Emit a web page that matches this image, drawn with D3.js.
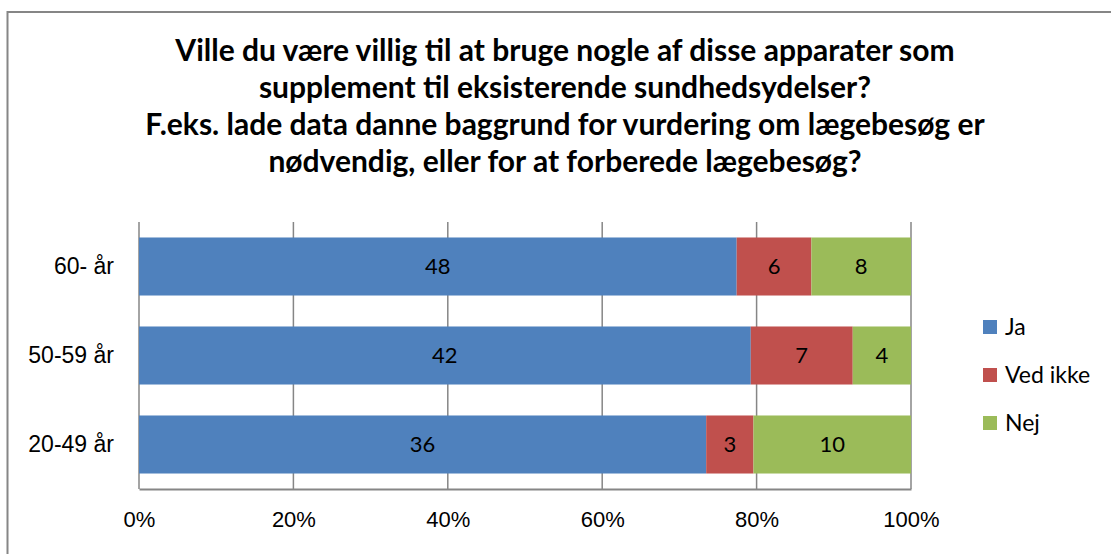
<!DOCTYPE html>
<html>
<head>
<meta charset="utf-8">
<script src="https://cdn.jsdelivr.net/npm/d3@7"></script>
<style>
  body { margin: 0; background: #fff; }
  svg { display: block; font-family: Lato, "Open Sans", sans-serif; }
</style>
</head>
<body>
<div id="chart"></div>
<script>
// chart size
const width = 1111;
const height = 554;
const marginTop = 222;
const marginRight = 200;
const marginBottom = 65;
const marginLeft = 139;

// data
const titleLines = [
  "Ville du være villig til at bruge nogle af disse apparater som",
  "supplement til eksisterende sundhedsydelser?",
  "F.eks. lade data danne baggrund for vurdering om lægebesøg er",
  "nødvendig, eller for at forberede lægebesøg?"
];
const ageGroups = ["60- år", "50-59 år", "20-49 år"];
const seriesNames = ["Ja", "Ved ikke", "Nej"];
const jaValues = [48, 42, 36];
const vedIkkeValues = [6, 7, 3];
const nejValues = [8, 4, 10];
const colors = ["#4F81BD", "#C0504D", "#9BBB59"];
const xTicks = [0, 0.2, 0.4, 0.6, 0.8, 1];

// build rows for stacking (as shares of each row total)
const rows = ageGroups.map((g, i) => {
  const vals = [jaValues[i], vedIkkeValues[i], nejValues[i]];
  const total = d3.sum(vals);
  const r = { group: g, counts: vals };
  seriesNames.forEach((s, j) => r[s] = vals[j] / total);
  return r;
});
const stacked = d3.stack().keys(seriesNames)(rows);

const x = d3.scaleLinear()
  .domain([0, 1])
  .range([marginLeft, width - marginRight]);

const y = d3.scaleBand()
  .domain(ageGroups)
  .range([marginTop, height - marginBottom])
  .paddingInner(0.348)
  .paddingOuter(0.174);

const svg = d3.select("#chart").append("svg")
  .attr("width", width)
  .attr("height", height);

// outer chart border (runs off the right and bottom of the picture)
svg.append("rect")
  .attr("x", 7.5)
  .attr("y", 12)
  .attr("width", width + 20)
  .attr("height", height + 20)
  .attr("fill", "none")
  .attr("stroke", "#868686")
  .attr("stroke-width", 2);

// title
svg.append("g")
  .selectAll("text")
  .data(titleLines)
  .join("text")
    .attr("x", 565)
    .attr("y", (d, i) => 61 + i * 37)
    .attr("text-anchor", "middle")
    .attr("font-weight", "bold")
    .attr("font-size", 30)
    .attr("fill", "#000")
    .text(d => d);

// gridlines
svg.append("g")
  .selectAll("line")
  .data(xTicks)
  .join("line")
    .attr("x1", d => x(d))
    .attr("x2", d => x(d))
    .attr("y1", marginTop)
    .attr("y2", height - marginBottom)
    .attr("stroke", "#868686")
    .attr("stroke-width", 1.5);

// bars
svg.append("g")
  .selectAll("g")
  .data(stacked)
  .join("g")
    .attr("fill", (d, i) => colors[i])
  .selectAll("rect")
  .data(d => d)
  .join("rect")
    .attr("x", d => x(d[0]))
    .attr("y", d => y(d.data.group))
    .attr("width", d => x(d[1]) - x(d[0]))
    .attr("height", y.bandwidth());

// data labels
svg.append("g")
  .selectAll("g")
  .data(stacked)
  .join("g")
  .selectAll("text")
  .data((s, j) => s.map(d => ({ d, j })))
  .join("text")
    .attr("x", o => (x(o.d[0]) + x(o.d[1])) / 2)
    .attr("y", o => y(o.d.data.group) + y.bandwidth() / 2)
    .attr("dy", "0.36em")
    .attr("text-anchor", "middle")
    .attr("font-size", 22)
    .attr("fill", "#000")
    .text(o => o.d.data.counts[o.j]);

// bottom axis
svg.append("g")
  .attr("transform", `translate(0,${height - marginBottom})`)
  .call(d3.axisBottom(x).tickValues(xTicks).tickFormat(d3.format(".0%")).tickSize(0).tickPadding(22))
  .call(g => g.select(".domain").attr("stroke", "#868686").attr("stroke-width", 2))
  .call(g => g.selectAll("text").attr("font-size", 22).attr("fill", "#000").attr("font-family", null));

// left axis labels
svg.append("g")
  .attr("transform", `translate(${marginLeft},0)`)
  .call(d3.axisLeft(y).tickSize(0).tickPadding(25))
  .call(g => g.select(".domain").remove())
  .call(g => g.selectAll("text").attr("font-size", 23).attr("fill", "#000").attr("font-family", null));

// legend
const legend = svg.append("g")
  .selectAll("g")
  .data(seriesNames)
  .join("g")
    .attr("transform", (d, i) => `translate(983,${327 + i * 48})`);

legend.append("rect")
  .attr("y", -7)
  .attr("width", 14)
  .attr("height", 14)
  .attr("fill", (d, i) => colors[i]);

legend.append("text")
  .attr("x", 22)
  .attr("dy", "0.36em")
  .attr("font-size", 23)
  .attr("fill", "#000")
  .text(d => d);
</script>
</body>
</html>
